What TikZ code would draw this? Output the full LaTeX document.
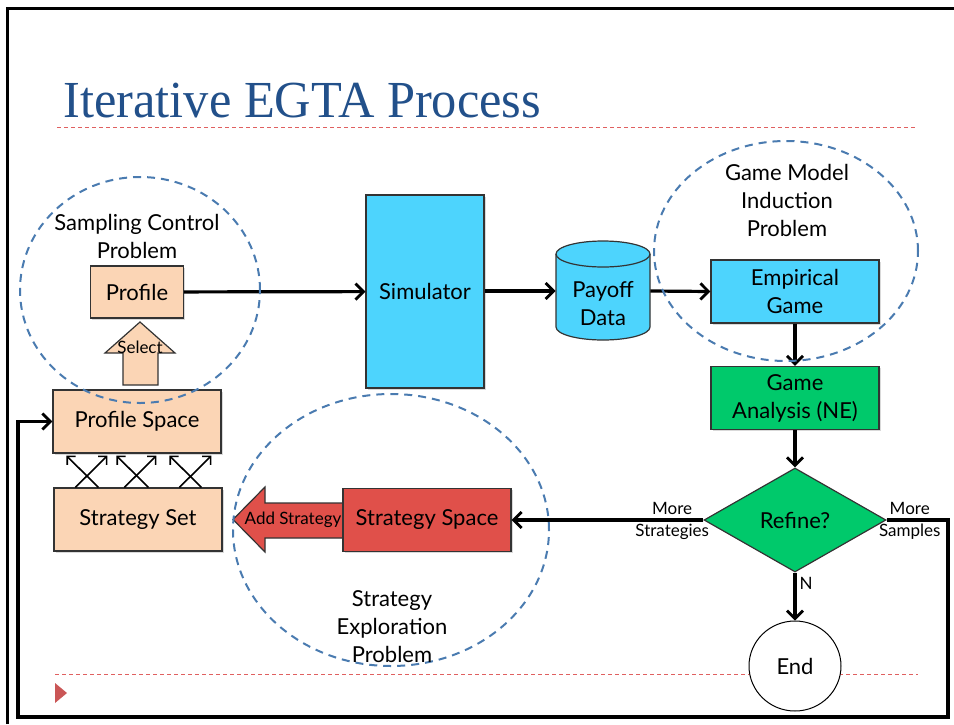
\documentclass[tikz,border=0pt]{standalone}
\usepackage{fontspec}
\setmainfont{Lato}
\newfontfamily\titlefont{Liberation Serif}
\usetikzlibrary{arrows.meta,shapes.geometric,shadows,calc}

\definecolor{peach}{HTML}{FBD5B5}
\definecolor{skyfill}{HTML}{4DD4FD}
\definecolor{gamegreen}{HTML}{00C96B}
\definecolor{addred}{HTML}{E0504A}
\definecolor{ringblue}{HTML}{4A7BB0}
\definecolor{titleblue}{HTML}{22508A}
\definecolor{rulered}{HTML}{E06060}

\begin{document}
\begin{tikzpicture}[
    x=0.5pt, y=-0.5pt,
    every node/.style={font=\fontsize{11}{14}\selectfont, align=center},
    box/.style={draw=black!80, line width=0.6pt, minimum width=84pt, minimum height=31.5pt,
        inner sep=0pt, drop shadow={opacity=0.3, shadow xshift=0.8pt, shadow yshift=-0.8pt}},
    ring/.style={draw=ringblue, line width=1pt, dash pattern=on 4pt off 3pt, ellipse, inner sep=0pt},
    flow/.style={line width=1.6pt, -{Straight Barb[length=4pt, width=8pt, line width=1.4pt]}},
    cross/.style={line width=0.8pt, -{Straight Barb[length=3pt, width=6pt, line width=0.8pt]}},
    small/.style={font=\fontsize{8.5}{11}\selectfont},
    rule/.style={draw=rulered, line width=0.5pt, dash pattern=on 2pt off 1.5pt},
]
    \useasboundingbox (0,0) rectangle (954,724);

    % slide frame and title
    \draw[line width=1.5pt] (7,724) -- (7,8) -- (954,8);
    \node[anchor=base west, inner sep=0pt, text=titleblue] (title) at (63,117)
        {\scalebox{0.97}[1]{\titlefont\fontsize{26}{30}\selectfont Iterative EGTA Process}};
    \draw[rule] (57,127) -- (918,127);
    \draw[rule] (55,674) -- (918,674);
    \fill[rulered!90!black] (55,683) -- (67,693) -- (55,703) -- cycle;

    % block arrows under the boxes
    \draw[fill=peach, draw=black!80, line width=0.6pt]
        (123,385) -- (123,353) -- (105,353) -- (140,322) -- (175,353) -- (158,353) -- (158,385) -- cycle;
    \node[small, inner sep=0pt] (select) at (140,347) {Select};
    \draw[fill=addred, draw=black!80, line width=0.6pt]
        (343,503) -- (265,503) -- (265,487) -- (233,519.5) -- (265,552) -- (265,538) -- (343,538) -- cycle;
    \node[small, inner sep=0pt] (addstrat) at (293,520) {Add Strategy};

    % payoff store
    \draw[fill=skyfill, draw=black!80, line width=0.6pt]
        (556,254) -- (556,327) arc[start angle=180, end angle=360, x radius=23.5pt, y radius=6.5pt]
        -- (650,254) arc[start angle=0, end angle=180, x radius=23.5pt, y radius=6.5pt] -- cycle;
    \draw[draw=black!80, line width=0.6pt]
        (556,254) arc[start angle=180, end angle=360, x radius=23.5pt, y radius=6.5pt];
    \node[minimum width=47pt, minimum height=50pt, inner sep=0pt] (payoff) at (603,291) {};
    \node (payofftext) at ($(payoff.center)+(0,13)$) {Payoff\\Data};

    % boxes
    \node[box, fill=peach, minimum width=46.5pt, minimum height=26pt] (profile) at (137,292) {Profile};
    \node[box, fill=peach] (profspace) at (137,421.5) {Profile Space};
    \node[box, fill=peach] (stratset) at (138,519.5) {Strategy Set};
    \node[box, fill=skyfill, minimum width=59pt, minimum height=96.5pt] (sim) at (425,291.5) {Simulator};
    \node[box, fill=skyfill] (empgame) at (795,291.5) {Empirical\\Game};
    \node[box, fill=gamegreen] (analysis) at (795,398) {Game\\Analysis (NE)};
    \node[diamond, draw=black!80, line width=0.6pt, fill=gamegreen, minimum width=91pt,
        minimum height=52pt, inner sep=0pt] (refine) at (795,520) {Refine?};
    \node[ellipse, draw=black, line width=0.5pt, fill=white, minimum width=46pt,
        minimum height=45pt, inner sep=0pt] (end) at (795,666) {End};
    \node[box, fill=addred] (stratspace) at (427,520) {Strategy Space};

    % flow
    \draw[flow] (profile) -- (sim);
    \draw[flow] (sim.east |- payoff.west) -- (payoff.west);
    \draw[flow] (payoff.east) -- (empgame.west);
    \draw[flow] (empgame) -- (analysis);
    \draw[flow] (analysis) -- (refine);
    \draw[flow] (refine) -- (end);
    \draw[flow] (refine.west) -- (stratspace.east);
    \draw[flow] (refine.east) -- (948,520) -- (948,717) -- (18,717) |- (profspace.west);
    \foreach \a/\b in {22/55, 45/14, 71/104, 95/64, 126/159, 148/117}
        \draw[cross] ($(stratset.north west)+(\a,0)$) -- ($(profspace.south west)+(\b,2)$);

    \node[small, anchor=east, inner sep=0pt] (morestrat) at ($(refine.west)+(6,1)$) {More\\Strategies};
    \node[small, anchor=west, inner sep=0pt] (moresamp) at ($(refine.east)+(-8,1)$) {More\\Samples};
    \node[small, inner sep=0pt] (nlabel) at (806,583) {N};

    % problem regions
    \node[ring, minimum width=120pt, minimum height=113pt] (samplering) at (140,290) {};
    \node[ring, minimum width=132pt, minimum height=110pt] (modelring) at (786,251) {};
    \node[ring, minimum width=158pt, minimum height=136pt] (explorering) at (391,530) {};
    \node (sampletext) at (137,236) {Sampling Control\\Problem};
    \node (modeltext) at (787,200) {Game Model\\Induction\\Problem};
    \node (exploretext) at (392,627) {Strategy\\Exploration\\Problem};
\end{tikzpicture}
\end{document}
